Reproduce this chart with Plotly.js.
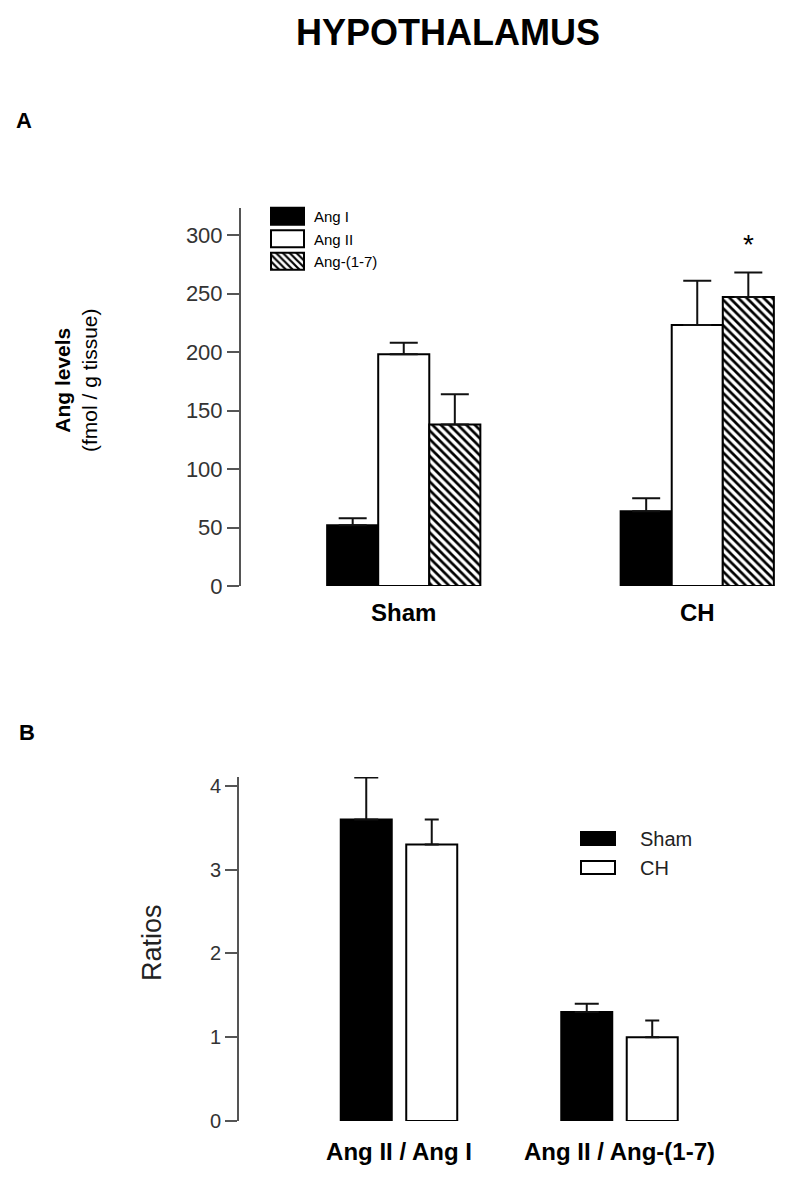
<!DOCTYPE html>
<html>
<head>
<meta charset="utf-8">
<script src="https://cdn.plot.ly/plotly-3.0.1.min.js"></script>
<style>
  html, body { margin: 0; padding: 0; background: #fff; }
  #chart { width: 800px; height: 1179px; }
</style>
</head>
<body>
<div id="chart"></div>
<script>
// ---- Data (panel A) ----
const groupsA = ['Sham', 'CH'];
const angI = [52, 64];
const angIErr = [6, 11];
const angII = [198, 223];
const angIIErr = [10, 38];
const ang17 = [138, 247];
const ang17Err = [26, 21];
const zerosA = [0, 0];
const ticksA = [0, 50, 100, 150, 200, 250, 300];

// ---- Data (panel B) ----
const ratioCats = ['Ang II / Ang I', 'Ang II / Ang-(1-7)'];
const shamRatio = [3.6, 1.3];
const shamRatioErr = [0.5, 0.1];
const chRatio = [3.3, 1.0];
const chRatioErr = [0.3, 0.2];
const zerosB = [0, 0];
const ticksB = [0, 1, 2, 3, 4];

// ---- Styling ----
const wA = 0.174;   // bar width, panel A (category units)
const wB = 0.2313;  // bar width, panel B
const dB = 0.1485;  // half distance between bar centres, panel B
const lineBlack = { color: '#000', width: 2 };
const errStyle = (arr, minus, w) => ({ type: 'data', array: arr, arrayminus: minus, symmetric: false,
  visible: true, color: '#111', thickness: 2, width: w });

const traces = [
  { type: 'bar', name: 'Ang I', x: groupsA, y: angI, xaxis: 'x', yaxis: 'y',
    width: wA, offset: -1.5 * wA, marker: { color: '#000', line: lineBlack },
    error_y: errStyle(angIErr, zerosA, 14), legend: 'legend' },
  { type: 'bar', name: 'Ang II', x: groupsA, y: angII, xaxis: 'x', yaxis: 'y',
    width: wA, offset: -0.5 * wA, marker: { color: '#fff', line: lineBlack },
    error_y: errStyle(angIIErr, zerosA, 14), legend: 'legend' },
  { type: 'bar', name: 'Ang-(1-7)', x: groupsA, y: ang17, xaxis: 'x', yaxis: 'y',
    width: wA, offset: 0.5 * wA,
    marker: { color: '#fff', line: lineBlack,
      pattern: { shape: '\\', fgcolor: '#000', bgcolor: '#fff', size: 6, solidity: 0.45, fillmode: 'replace' } },
    error_y: errStyle(ang17Err, zerosA, 14), legend: 'legend' },
  { type: 'bar', name: 'Sham', x: ratioCats, y: shamRatio, xaxis: 'x2', yaxis: 'y2',
    width: wB, offset: -dB - wB / 2, marker: { color: '#000', line: lineBlack },
    error_y: errStyle(shamRatioErr, zerosB, 12), legend: 'legend2' },
  { type: 'bar', name: 'CH', x: ratioCats, y: chRatio, xaxis: 'x2', yaxis: 'y2',
    width: wB, offset: dB - wB / 2, marker: { color: '#fff', line: lineBlack },
    error_y: errStyle(chRatioErr, zerosB, 7), legend: 'legend2' }
];

const FONT = 'Liberation Sans, Arial, sans-serif';
const yAxisBase = {
  showline: true, linecolor: '#555', linewidth: 2,
  ticks: 'outside', ticklen: 12, tickwidth: 2, tickcolor: '#555',
  showgrid: false, zeroline: false, fixedrange: true,
  tickfont: { family: FONT, size: 22, color: '#333' }
};
const xAxisBase = {
  type: 'category', showline: false, ticks: '', showgrid: false, zeroline: false,
  tickfont: { family: FONT, size: 24, color: '#000', weight: 'bold' }
};

const layout = {
  width: 800, height: 1179,
  margin: { l: 0, r: 0, t: 0, b: 0 },
  paper_bgcolor: '#fff', plot_bgcolor: 'rgba(0,0,0,0)',
  barmode: 'overlay',
  showlegend: true,
  font: { family: FONT, color: '#000' },
  title: { text: '<b>HYPOTHALAMUS</b>', font: { family: FONT, size: 36, color: '#000' },
    x: 448 / 800, xanchor: 'center', y: 1 - 32 / 1179, yanchor: 'middle' },
  xaxis: Object.assign({}, xAxisBase, { domain: [241 / 800, 790 / 800], range: [-0.5545, 1.316],
    anchor: 'y', ticklabelstandoff: 10 }),
  yaxis: Object.assign({}, yAxisBase, { domain: [1 - 586 / 1179, 1 - 208 / 1179], range: [0, 323.1],
    tickvals: ticksA, anchor: 'x' }),
  xaxis2: Object.assign({}, xAxisBase, { domain: [239 / 800, 790 / 800], range: [-0.7256, 1.7733],
    anchor: 'y2', ticklabelstandoff: 14 }),
  yaxis2: Object.assign({}, yAxisBase, { domain: [1 - 1121 / 1179, 1 - 777 / 1179], range: [0, 4.107],
    tickvals: ticksB, anchor: 'x2', tickfont: { family: FONT, size: 20, color: '#333' } }),
  legend: { x: 264 / 800, y: 1 - 200 / 1179, xanchor: 'left', yanchor: 'top', itemwidth: 40,
    bgcolor: 'rgba(0,0,0,0)', font: { family: FONT, size: 15, color: '#000' }, tracegroupgap: 0 },
  legend2: { x: 575 / 800, y: 1 - 819 / 1179, xanchor: 'left', yanchor: 'top', itemwidth: 55,
    bgcolor: 'rgba(0,0,0,0)', font: { family: FONT, size: 20, color: '#222' }, tracegroupgap: 0 },
  annotations: [
    { text: '<b>A</b>', xref: 'paper', yref: 'paper', x: 24 / 800, y: 1 - 120 / 1179,
      xanchor: 'center', yanchor: 'middle',
      showarrow: false, font: { family: FONT, size: 22, color: '#000' } },
    { text: '<b>B</b>', xref: 'paper', yref: 'paper', x: 27 / 800, y: 1 - 732 / 1179,
      xanchor: 'center', yanchor: 'middle',
      showarrow: false, font: { family: FONT, size: 22, color: '#000' } },
    { text: '<b>Ang levels</b><br>(fmol / g tissue)', xref: 'paper', yref: 'paper',
      x: 76 / 800, y: 1 - 380 / 1179, textangle: -90, showarrow: false,
      xanchor: 'center', yanchor: 'middle',
      font: { family: FONT, size: 21, color: '#000' } },
    { text: 'Ratios', xref: 'paper', yref: 'paper', x: 152 / 800, y: 1 - 943 / 1179,
      xanchor: 'center', yanchor: 'middle',
      textangle: -90, showarrow: false, font: { family: FONT, size: 27, color: '#222' } },
    { text: '*', xref: 'x', yref: 'y', x: 1 + wA, y: ang17[1] + ang17Err[1] + 24,
      showarrow: false, font: { family: FONT, size: 28, color: '#000' } }
  ]
};

// Legend swatch sizes: [width, height, gap to text]
const legendSpec = {
  'Ang I': [33, 17, 10], 'Ang II': [33, 17, 10], 'Ang-(1-7)': [33, 17, 10],
  'Sham': [34, 13, 25], 'CH': [34, 13, 25]
};
function fixLegendSymbols() {
  document.querySelectorAll('#chart g.traces').forEach(g => {
    const t = g.querySelector('text');
    if (!t) return;
    const spec = legendSpec[(t.textContent || '').trim()];
    if (!spec) return;
    const tx = parseFloat(t.getAttribute('x')) || 40;
    const [w, h, gap] = spec;
    g.querySelectorAll('g.legendpoints path').forEach(p => {
      p.removeAttribute('transform');
      p.setAttribute('d', `M${tx - gap - w},${-h / 2}h${w}v${h}h${-w}Z`);
      p.style.strokeWidth = '2px';
      p.style.stroke = '#000';
    });
  });
}

const gd = document.getElementById('chart');
Plotly.newPlot(gd, traces, layout, { staticPlot: true, displayModeBar: false }).then(() => {
  fixLegendSymbols();
  gd.on('plotly_afterplot', fixLegendSymbols);
});
</script>
</body>
</html>
